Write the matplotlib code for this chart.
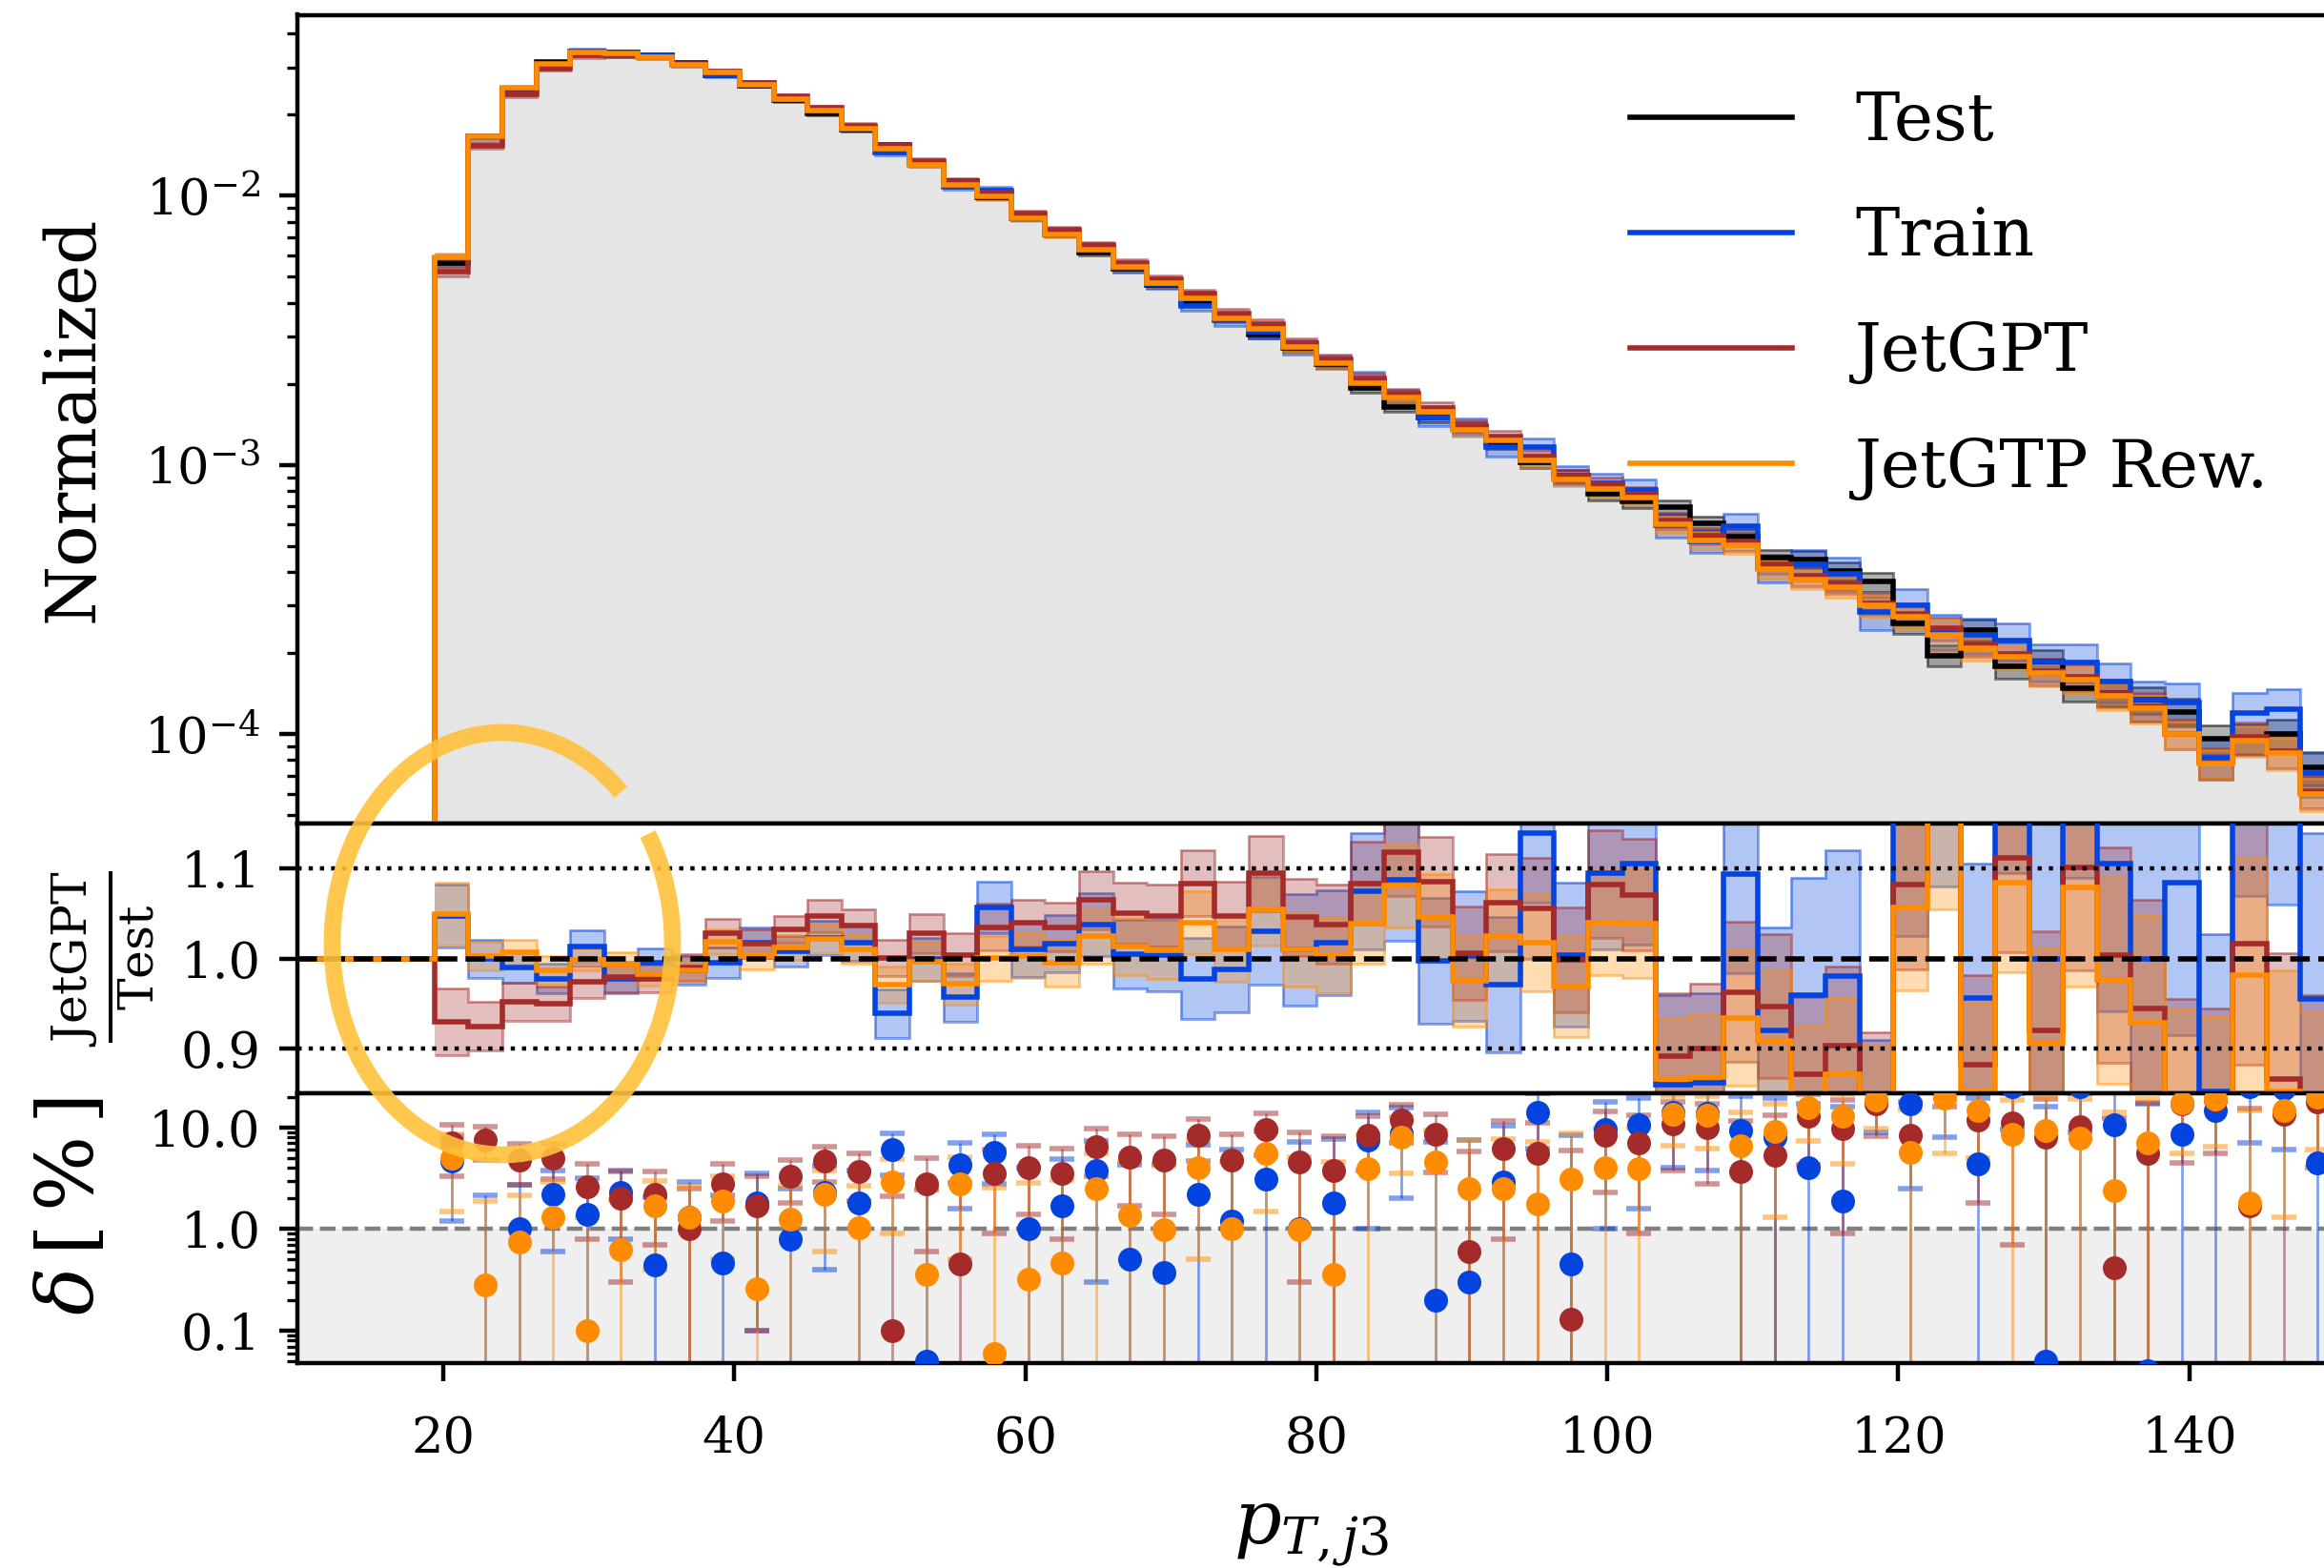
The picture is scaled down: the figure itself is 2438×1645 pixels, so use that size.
import numpy as np
import matplotlib
matplotlib.use("Agg")
import matplotlib.pyplot as plt
from matplotlib.patches import Arc
from matplotlib.lines import Line2D
from matplotlib.ticker import FixedLocator, FuncFormatter, LogLocator, NullFormatter

plt.rcParams.update({
    "font.family": ["DejaVu Serif"],
    "mathtext.fontset": "dejavuserif",
    "font.size": 9.5,
})

# ---- data -------------------------------------------------------------
# 56 equal-width bins in p_T,j3
bin_edges = np.linspace(19.39, 149.98, 57)

test_vals = [5.6e-3, 1.66e-2, 2.50e-2, 3.13e-2, 3.40e-2, 3.40e-2, 3.33e-2, 3.11e-2, 2.81e-2, 2.57e-2,
             2.26e-2, 2.02e-2, 1.76e-2, 1.54e-2, 1.31e-2, 1.13e-2, 9.9e-3, 8.25e-3, 7.2e-3, 6.14e-3,
             5.35e-3, 4.67e-3, 3.99e-3, 3.48e-3, 3.04e-3, 2.71e-3, 2.37e-3, 1.93e-3, 1.64e-3, 1.50e-3,
             1.38e-3, 1.20e-3, 1.02e-3, 9.1e-4, 7.8e-4, 7.3e-4, 6.95e-4, 6.05e-4, 5.4e-4, 4.51e-4,
             4.45e-4, 4.03e-4, 3.68e-4, 2.58e-4, 1.96e-4, 2.44e-4, 1.78e-4, 1.86e-4, 1.48e-4, 1.42e-4,
             1.34e-4, 1.21e-4, 9.6e-5, 9.6e-5, 1.0e-4, 7.5e-5]

# model / test
ratio_train = [1.047, 0.9997, 0.990, 0.978, 1.014, 0.977, 0.9956, 0.987, 0.9954, 1.018,
               1.008, 1.023, 1.018, 0.939, 0.9995, 0.957, 1.057, 1.010, 1.017, 1.038,
               1.005, 1.0037, 0.978, 0.988, 1.031, 1.010, 1.018, 1.075, 1.088, 0.998,
               1.003, 0.971, 1.140, 1.0045, 1.095, 1.106, 0.860, 0.862, 1.094, 0.920,
               0.960, 0.981, 0.770, 1.170, 1.230, 0.956, 1.250, 0.9995, 1.250, 1.106,
               0.9996, 1.085, 0.852, 1.250, 1.240, 0.955]
ratio_gpt = [0.930, 0.925, 0.952, 0.950, 0.974, 0.980, 0.978, 0.990, 1.028, 1.017,
             1.033, 1.047, 1.037, 1.001, 1.028, 1.0045, 1.035, 1.040, 1.035, 1.065,
             1.051, 1.048, 1.084, 1.048, 1.095, 1.046, 1.038, 1.084, 1.118, 1.086,
             1.006, 1.062, 1.056, 0.9987, 1.083, 1.071, 0.892, 0.900, 0.963, 0.947,
             0.872, 0.903, 0.828, 1.083, 1.260, 0.882, 1.112, 0.920, 1.102, 1.0042,
             0.945, 0.830, 0.815, 1.017, 0.866, 0.820]
ratio_rew = [1.050, 1.0028, 1.0074, 0.987, 0.999, 0.9937, 0.983, 0.987, 1.019, 1.0026,
             1.0126, 1.022, 1.0104, 0.971, 0.9964, 0.972, 1.0006, 1.0032, 0.9954, 1.025,
             1.0137, 1.0098, 1.040, 1.010, 1.055, 1.0099, 1.0036, 1.039, 1.081, 1.046,
             0.975, 1.025, 1.0177, 0.969, 1.040, 1.039, 0.866, 0.868, 0.934, 0.909,
             0.844, 0.871, 0.815, 1.057, 1.195, 0.852, 1.085, 0.906, 1.079, 0.976,
             0.929, 0.824, 0.810, 0.982, 0.852, 0.800]

# relative statistical uncertainties
err_test = [0.020, 0.012, 0.010, 0.010, 0.010, 0.010, 0.010, 0.010, 0.011, 0.011,
            0.012, 0.012, 0.013, 0.014, 0.015, 0.016, 0.017, 0.018, 0.019, 0.021,
            0.022, 0.024, 0.026, 0.028, 0.030, 0.032, 0.034, 0.036, 0.038, 0.040,
            0.042, 0.045, 0.048, 0.050, 0.053, 0.056, 0.060, 0.063, 0.066, 0.070,
            0.073, 0.077, 0.080, 0.085, 0.090, 0.095, 0.100, 0.100, 0.105, 0.110,
            0.115, 0.120, 0.125, 0.130, 0.135, 0.140]
err_train = [0.035, 0.021, 0.017, 0.016, 0.018, 0.015, 0.016, 0.016, 0.017, 0.017,
             0.017, 0.019, 0.020, 0.027, 0.024, 0.027, 0.029, 0.030, 0.032, 0.035,
             0.038, 0.040, 0.045, 0.048, 0.060, 0.062, 0.058, 0.065, 0.068, 0.070,
             0.072, 0.075, 0.078, 0.080, 0.085, 0.090, 0.100, 0.100, 0.110, 0.115,
             0.130, 0.140, 0.140, 0.145, 0.150, 0.150, 0.155, 0.160, 0.160, 0.165,
             0.170, 0.170, 0.175, 0.180, 0.180, 0.185]
err_gpt = [0.037, 0.027, 0.021, 0.019, 0.018, 0.017, 0.015, 0.015, 0.016, 0.016,
           0.015, 0.018, 0.018, 0.020, 0.022, 0.024, 0.026, 0.026, 0.027, 0.032,
           0.034, 0.034, 0.037, 0.038, 0.042, 0.043, 0.044, 0.046, 0.048, 0.050,
           0.052, 0.054, 0.056, 0.058, 0.060, 0.062, 0.070, 0.072, 0.078, 0.080,
           0.085, 0.088, 0.090, 0.095, 0.100, 0.100, 0.105, 0.110, 0.115, 0.120,
           0.120, 0.125, 0.130, 0.135, 0.140, 0.140]
err_rew = [0.035, 0.016, 0.014, 0.016, 0.012, 0.013, 0.013, 0.013, 0.014, 0.014,
           0.014, 0.016, 0.016, 0.020, 0.021, 0.023, 0.025, 0.025, 0.026, 0.030,
           0.032, 0.032, 0.035, 0.036, 0.040, 0.041, 0.042, 0.044, 0.046, 0.048,
           0.050, 0.052, 0.054, 0.056, 0.058, 0.060, 0.068, 0.070, 0.075, 0.078,
           0.082, 0.085, 0.088, 0.092, 0.140, 0.098, 0.100, 0.105, 0.110, 0.115,
           0.118, 0.120, 0.125, 0.130, 0.135, 0.140]

labels = ["Test", "Train", "JetGPT", "JetGTP Rew."]
colors = ["black", "#0343df", "#a52a2a", "#ff8c00"]

# ---- figure -----------------------------------------------------------
W_PX, H_PX = 2438, 1645
fig = plt.figure(figsize=(W_PX / 400, H_PX / 400), dpi=400)

left = 312.4 / W_PX
y_top, y_m, y_r, y_b = 15.5, 864.3, 1147.3, 1430.0
ax_main = fig.add_axes([left, 1 - y_m / H_PX, 1 - left, (y_m - y_top) / H_PX])
ax_ratio = fig.add_axes([left, 1 - y_r / H_PX, 1 - left, (y_r - y_m) / H_PX], sharex=ax_main)
ax_delta = fig.add_axes([left, 1 - y_b / H_PX, 1 - left, (y_b - y_r) / H_PX], sharex=ax_main)

edges = bin_edges
ext_edges = np.r_[10.0, edges]
centers = 0.5 * (edges[:-1] + edges[1:])
test = np.array(test_vals)

ratios = [np.array(ratio_train), np.array(ratio_gpt), np.array(ratio_rew)]
errs = [np.array(err_train), np.array(err_gpt), np.array(err_rew)]
hists = [test] + [test * r for r in ratios]
herrs = [np.array(err_test)] + errs

# main panel
ax_main.fill_between(edges, np.r_[test, test[-1]], 1e-9, step="post",
                     color="#e5e5e5", lw=0, zorder=0)
for h, e, c in zip(hists, herrs, colors):
    lo, hi = h * (1 - e), h * (1 + e)
    ax_main.fill_between(edges, np.r_[lo, lo[-1]], np.r_[hi, hi[-1]], step="post",
                         color=c, alpha=0.3, lw=0, zorder=1)
    ax_main.stairs(lo, edges, baseline=None, color=c, alpha=0.5, lw=0.5, zorder=1)
    ax_main.stairs(hi, edges, baseline=None, color=c, alpha=0.5, lw=0.5, zorder=1)
for h, c in zip(hists, colors):
    ax_main.stairs(np.r_[1e-9, h], ext_edges, baseline=None, color=c, lw=1.0, zorder=3)

ax_main.set_yscale("log")
ax_main.set_ylim(4.64e-5, 0.047)
ax_main.set_xlim(10, 149.26)
ax_main.set_ylabel("Normalized", fontsize=13)
ax_main.tick_params(axis="x", bottom=False, labelbottom=False)

handles = [Line2D([], [], color=c, lw=1.0) for c in colors]
ax_main.legend(handles, labels, loc="upper left", bbox_to_anchor=(0.7014, 0.9425),
               bbox_transform=fig.transFigure, frameon=False, fontsize=12.5,
               handlelength=2.45, handletextpad=0.95, labelspacing=0.79,
               borderpad=0, borderaxespad=0)

# ratio panel
for r, e, c in zip(ratios, errs, colors[1:]):
    lo, hi = r - e, r + e
    ax_ratio.fill_between(edges, np.r_[lo, lo[-1]], np.r_[hi, hi[-1]], step="post",
                          color=c, alpha=0.3, lw=0, zorder=1)
    ax_ratio.stairs(lo, edges, baseline=None, color=c, alpha=0.5, lw=0.5, zorder=1)
    ax_ratio.stairs(hi, edges, baseline=None, color=c, alpha=0.5, lw=0.5, zorder=1)
for r, c in zip(ratios, colors[1:]):
    ax_ratio.stairs(np.r_[1.0, r], ext_edges, baseline=None, color=c, lw=1.0, zorder=3)
ax_ratio.axhline(1.0, color="black", ls="--", lw=1.0, zorder=10)
for v in (0.9, 1.1):
    ax_ratio.axhline(v, color="black", ls=":", lw=0.8, zorder=10)
ax_ratio.set_ylim(0.85, 1.15)
ax_ratio.yaxis.set_major_locator(FixedLocator([0.9, 1.0, 1.1]))
ax_ratio.yaxis.set_major_formatter(FuncFormatter(lambda v, p: f"{v:.1f}"))
ax_ratio.set_ylabel(r"$\frac{\mathrm{JetGPT}}{\mathrm{Test}}$", fontsize=13)
ax_ratio.tick_params(axis="x", bottom=False, labelbottom=False)

# delta panel
ax_delta.fill_between([10, 149.26], 1e-3, 1.0, color="#efefef", lw=0, zorder=0)
ax_delta.axhline(1.0, color="grey", ls="--", lw=0.8, zorder=1)
for r, e, c in zip(ratios, errs, colors[1:]):
    d = 100 * np.abs(r - 1)
    de = 100 * e
    lower = d - np.maximum(d - de, 1e-6)
    ax_delta.errorbar(centers, d, yerr=[lower, de], fmt="none", ecolor=c,
                      elinewidth=0.5, capsize=2.3, capthick=1.0, alpha=0.5, zorder=2)
for r, c in zip(ratios, colors[1:]):
    d = 100 * np.abs(r - 1)
    ax_delta.plot(centers, d, "o", color=c, ms=4.5, mew=0, zorder=3)
ax_delta.set_yscale("log")
ax_delta.set_ylim(0.048, 21.5)
ax_delta.yaxis.set_major_locator(FixedLocator([0.1, 1.0, 10.0]))
ax_delta.yaxis.set_major_formatter(FuncFormatter(lambda v, p: f"{v:.1f}"))
ax_delta.yaxis.set_minor_locator(LogLocator(subs=np.arange(2, 10)))
ax_delta.yaxis.set_minor_formatter(NullFormatter())
ax_delta.set_xticks([20, 40, 60, 80, 100, 120, 140])
ax_delta.tick_params(axis="x", pad=6.3)
ax_delta.set_ylabel(r"$\delta\,[\,\%\,]$", fontsize=15)
ax_delta.set_xlabel(r"$p_{T,j3}$", fontsize=14, labelpad=6)

for ax in (ax_main, ax_ratio, ax_delta):
    ax.spines["right"].set_visible(False)

ax_main.yaxis.set_label_coords(-0.094, 0.5)
ax_ratio.yaxis.set_label_coords(-0.070, 0.5)
ax_delta.yaxis.set_label_coords(-0.093, 0.58)

# hand-drawn highlight around the low-pT region
ax_over = fig.add_axes([0, 0, 1, 1], zorder=20)
ax_over.set_xlim(0, W_PX)
ax_over.set_ylim(0, H_PX)
ax_over.axis("off")
ax_over.add_patch(Arc((527, H_PX - 990), 357, 443, theta1=52, theta2=397,
                      color="#ffc13b", lw=3.2, alpha=0.9))

fig.savefig("out.png", dpi=400)
